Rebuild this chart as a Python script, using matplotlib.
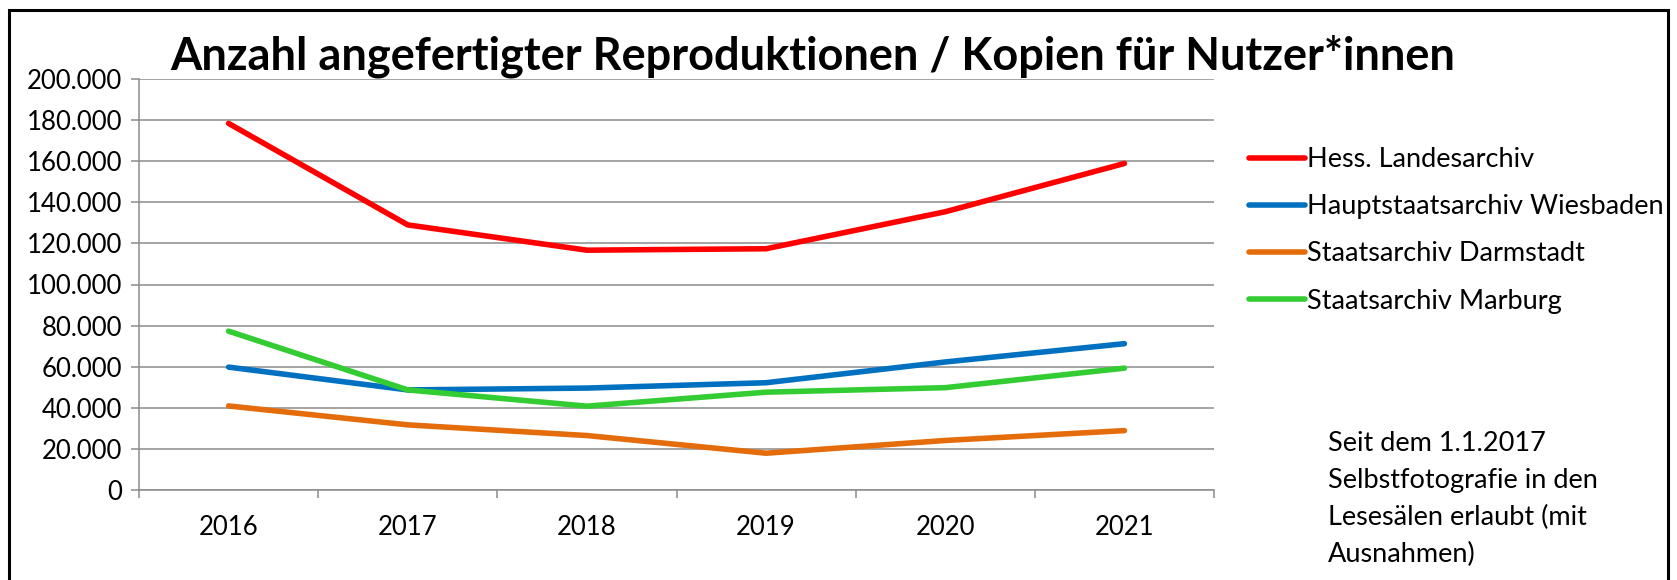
"""Anzahl angefertigter Reproduktionen / Kopien - line chart per archive."""

import matplotlib

matplotlib.use("Agg")
import matplotlib.pyplot as plt
from matplotlib.patches import Rectangle
from matplotlib.ticker import FixedLocator, FuncFormatter

plt.rcParams["font.family"] = ["Lato", "DejaVu Sans"]

years = ["2016", "2017", "2018", "2019", "2020", "2021"]
hess_landesarchiv = [178400, 129000, 116700, 117400, 135400, 158900]
hsta_wiesbaden = [59800, 48700, 49600, 52200, 62300, 71200]
sta_darmstadt = [40900, 31700, 26500, 17900, 24100, 28900]
sta_marburg = [77300, 48700, 40800, 47600, 49800, 59300]

series = [
    ("Hess. Landesarchiv", hess_landesarchiv, "#ff0000"),
    ("Hauptstaatsarchiv Wiesbaden", hsta_wiesbaden, "#0070c0"),
    ("Staatsarchiv Darmstadt", sta_darmstadt, "#e46c0a"),
    ("Staatsarchiv Marburg", sta_marburg, "#33cc33"),
]

title = "Anzahl angefertigter Reproduktionen / Kopien für Nutzer*innen"
note = "Seit dem 1.1.2017\nSelbstfotografie in den\nLesesälen erlaubt (mit\nAusnahmen)"

W, H = 1677, 580
fig = plt.figure(figsize=(W / 100, H / 100), dpi=100)

# plot area in pixel coords
left, right, top, bottom = 139, 1214, 79, 490
ax = fig.add_axes([left / W, (H - bottom) / H, (right - left) / W, (bottom - top) / H])

grid_c = "#8c8c8c"
x = range(len(years))
for name, vals, color in series:
    ax.plot(x, vals, color=color, lw=4, solid_capstyle="round",
            solid_joinstyle="round", label=name, zorder=3)

ax.set_xlim(-0.5, len(years) - 0.5)
ax.set_ylim(0, 200000)
ax.yaxis.set_major_locator(FixedLocator(range(0, 200001, 20000)))
ax.yaxis.set_major_formatter(FuncFormatter(lambda v, _: f"{v:,.0f}".replace(",", ".")))
ax.grid(axis="y", color=grid_c, lw=1.1, zorder=1)

ax.set_xticks(list(x))
ax.set_xticklabels(years)
ax.set_xticks([i - 0.5 for i in range(len(years) + 1)], minor=True)
ax.tick_params(axis="x", which="major", length=0, pad=18, labelsize=18.5)
ax.tick_params(axis="x", which="minor", length=6, width=1.1, color=grid_c)
ax.tick_params(axis="y", length=6, width=1.1, color=grid_c, pad=6, labelsize=18.5)

for s in ("top", "right"):
    ax.spines[s].set_visible(False)
for s in ("left", "bottom"):
    ax.spines[s].set_color(grid_c)
    ax.spines[s].set_linewidth(1.1)

fig.text(813 / W, 1 - 56 / H, title, ha="center", va="center",
         fontsize=32.5, fontweight="bold")

fig.legend(loc="upper left", bbox_to_anchor=(1249 / W, 1 - 147 / H),
           frameon=False, fontsize=19.5, handlelength=2.05, handletextpad=0.1,
           labelspacing=0.82, borderaxespad=0, borderpad=0)

fig.text(1328 / W, 1 - 431 / H, note, ha="left", va="top",
         fontsize=19.5, linespacing=1.6)

# outer frame (bottom edge lies outside the picture)
fig.patches.append(Rectangle((9 / W, -0.05), (1668 - 9) / W, 1 - 10 / H + 0.05,
                             transform=fig.transFigure, fill=False,
                             edgecolor="black", lw=2.2))

fig.savefig("out.png", dpi=100)
